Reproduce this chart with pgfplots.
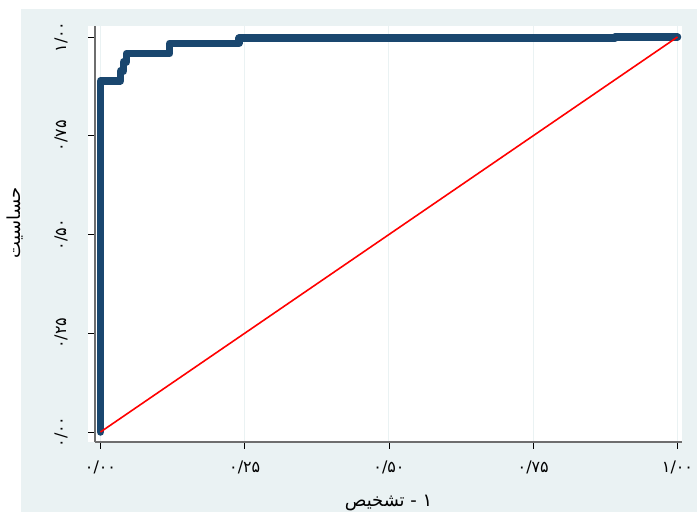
\documentclass[border=0pt]{standalone}
\usepackage{fontspec}
\usepackage{pgfplots}
\pgfplotsset{compat=1.18}
\TeXXeTstate=1
\newfontfamily\arabicfont[Script=Arabic]{DejaVu Sans}
\definecolor{bgcol}{RGB}{234,242,243}
\definecolor{navy}{RGB}{26,71,111}
\definecolor{axgray}{RGB}{110,110,110}

\begin{document}
\begin{tikzpicture}[x=1bp,y=1bp]
\useasboundingbox (0,0) rectangle (697,523);
\fill[white] (0,0) rectangle (697,523);
\fill[bgcol] (21,11) rectangle (697,514);
\fill[white] (88,81) rectangle (682,497);
\begin{axis}[
  at={(95bp,81bp)}, anchor=south west,
  scale only axis, width=587bp, height=416bp,
  xmin=-0.0095, xmax=1.0078, ymin=-0.0253, ymax=1.0278,
  axis x line*=bottom, axis y line*=left,
  axis line style={-, draw=axgray, line width=1.2bp},
  tick align=outside, major tick length=7bp,
  tick style={black, line width=0.6bp},
  xtick={0,0.25,0.5,0.75,1}, ytick={0,0.25,0.5,0.75,1},
  xticklabels={۰/۰۰,۰/۲۵,۰/۵۰,۰/۷۵,۱/۰۰},
  yticklabels={۰/۰۰,۰/۲۵,۰/۵۰,۰/۷۵,۱/۰۰},
  ticklabel style={font=\arabicfont\fontsize{16}{18}\selectfont},
  xticklabel style={yshift=-8bp},
  yticklabel style={xshift=-17bp, rotate=90, anchor=south},
  xmajorgrids, grid style={bgcol, line width=1bp},
  xlabel={\arabicfont\beginR ۱ - تشخیص\endR},
  ylabel={\arabicfont\beginR حساسیت\endR},
  label style={font=\arabicfont\fontsize{18}{20}\selectfont},
  xlabel style={at={(axis description cs:0.5,-0.146)}, anchor=center},
  ylabel style={at={(axis description cs:-0.136,0.527)}, anchor=center},
  clip=false,
]
% ROC curve (sensitivity vs 1 - specificity)
\addplot[navy, line width=7.5bp, line cap=round, line join=round] coordinates {
  (0,0) (0,0.889) (0.035,0.889) (0.035,0.914) (0.040,0.914) (0.040,0.937)
  (0.045,0.937) (0.045,0.958) (0.120,0.958) (0.120,0.984) (0.240,0.984)
  (0.240,0.997) (0.892,0.997) (0.892,1) (1,1)
};
% reference line
\addplot[red, line width=1.6bp] coordinates {(0,0) (1,1)};
\end{axis}
\end{tikzpicture}
\end{document}
